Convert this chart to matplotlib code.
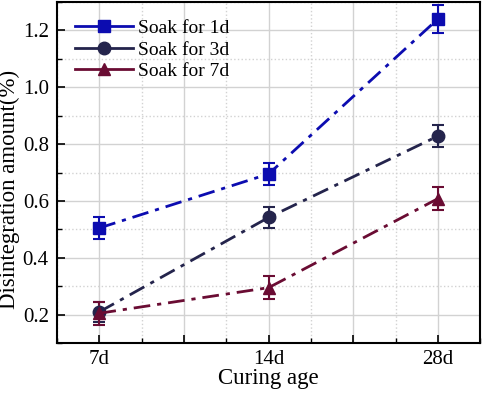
import matplotlib
matplotlib.use("Agg")
import matplotlib.pyplot as plt
from matplotlib.ticker import MultipleLocator, FixedLocator, FixedFormatter

categories = ["7d", "14d", "28d"]
soak1 = [0.505, 0.695, 1.24]
soak1_err = [0.04, 0.04, 0.05]
soak3 = [0.21, 0.542, 0.828]
soak3_err = [0.035, 0.037, 0.038]
soak7 = [0.205, 0.295, 0.608]
soak7_err = [0.04, 0.04, 0.04]
labels = ["Soak for 1d", "Soak for 3d", "Soak for 7d"]
colors = ["#0c0cb0", "#24244c", "#6a0c33"]
markers = ["s", "o", "^"]

plt.rcParams['font.family'] = ['Liberation Serif', 'DejaVu Serif']
fig = plt.figure(figsize=(4.84, 3.93), dpi=100)
ax = fig.add_axes([0.118, 0.127, 0.874, 0.868])

x = list(range(len(categories)))
handles = []
for y, e, lab, c, m in zip([soak1, soak3, soak7], [soak1_err, soak3_err, soak7_err], labels, colors, markers):
    cont = ax.errorbar(x, y, yerr=e, color=c, marker=m, markersize=9, lw=2,
                       capsize=4.5, capthick=1.5, elinewidth=1.5, label=lab)
    cont[0].set_dashes([6, 2.5, 1.5, 2.5])
    h, = ax.plot([], [], color=c, marker=m, markersize=9, lw=2, label=lab)
    handles.append(h)

ax.set_xlim(-0.25, 2.25)
ax.set_ylim(0.1, 1.3)
major_x = [0, 0.5, 1, 1.5, 2]
ax.xaxis.set_major_locator(FixedLocator(major_x))
ax.xaxis.set_major_formatter(FixedFormatter([categories[0], "", categories[1], "", categories[2]]))
ax.xaxis.set_minor_locator(MultipleLocator(0.25))
ax.yaxis.set_major_locator(MultipleLocator(0.2))
ax.yaxis.set_minor_locator(MultipleLocator(0.1))
ax.set_yticks([0.2, 0.4, 0.6, 0.8, 1.0, 1.2])
ax.grid(which='major', color='#d2d2d2', lw=1, ls='-')
ax.grid(which='minor', color='#d2d2d2', lw=1, ls=':')
ax.set_axisbelow(True)
ax.tick_params(which='major', direction='in', length=6, width=1.2, labelsize=15)
ax.tick_params(axis='y', which='major', pad=6)
ax.tick_params(axis='x', which='major', pad=5)
ax.tick_params(which='minor', direction='in', length=3.5, width=1.0)
for s in ax.spines.values():
    s.set_linewidth(1.5)
ax.set_xlabel("Curing age", fontsize=16.5, labelpad=-1)
ax.set_ylabel("Disintegration amount(%)", fontsize=16.5)
ax.yaxis.set_label_coords(-0.088, 0.45)

leg = ax.legend(handles=handles, loc='upper left', frameon=False, fontsize=14,
                handlelength=3.0, handletextpad=0.25, labelspacing=0.2,
                borderaxespad=0.4, borderpad=0.5)

fig.savefig("out.png", dpi=100)
